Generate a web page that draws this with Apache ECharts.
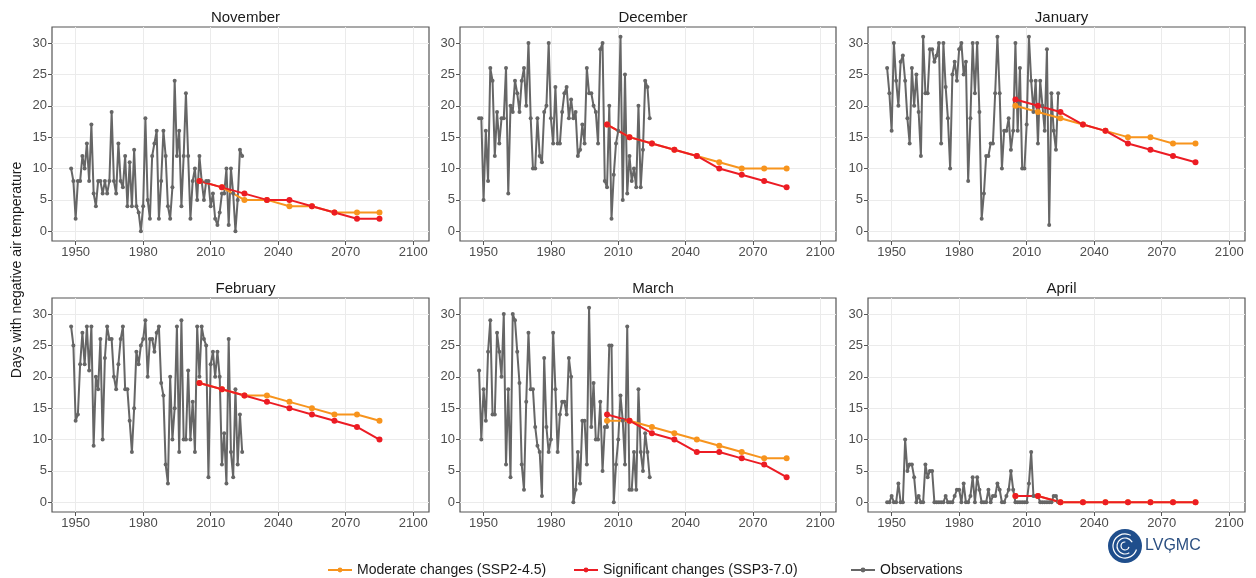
<!DOCTYPE html>
<html>
<head>
<meta charset="utf-8">
<script src="https://cdn.jsdelivr.net/npm/echarts@6/dist/echarts.min.js"></script>
<style>
  html, body { margin: 0; padding: 0; background: #fff; }
  #chart { width: 1256px; height: 578px; }
</style>
</head>
<body>
<div id="chart"></div>
<script>
// observations, one value per year starting at obsStart
var obsStart = 1948;
var projYears = [2005, 2015, 2025, 2035, 2045, 2055, 2065, 2075, 2085];
var xTicks = [1950, 1980, 2010, 2040, 2070, 2100];
var yTicks = [0, 5, 10, 15, 20, 25, 30];
var months = ['November', 'December', 'January', 'February', 'March', 'April'];
var legendNames = ['Moderate changes (SSP2-4.5)', 'Significant changes (SSP3-7.0)', 'Observations'];

var novObs = [10,8,2,8,8,12,10,14,8,17, 6,4,8,8,6,8,6,8,19,8, 6,14,8,7,12,4,11,4,13,4,
    3,0,4,18,5,2,12,14,16,2, 8,16,12,4,2,7,24,12,16,4, 12,22,12,2,8,10,5,12,8,5,
    8,8,4,6,2,1,3,6,6,10, 1,10,6,0,5,13,12];
var decObs = [18,18,5,16,8,26,24,12,19,14, 18,18,26,6,20,19,24,22,19,24, 26,20,30,18,10,10,18,12,11,19,
    20,30,18,14,23,14,14,19,22,23, 18,21,18,19,12,13,17,14,26,22, 22,20,19,14,29,30,8,7,20,2,
    9,14,16,31,5,25,6,12,8,10, 7,20,7,13,24,23,18];
var janObs = [26,22,16,30,24,20,27,28,24,18, 14,26,20,25,19,12,31,22,22,29, 29,27,28,30,14,30,23,18,10,25,
    27,24,29,30,25,27,8,18,30,22, 30,19,2,6,12,12,14,14,22,31, 22,10,16,16,18,13,16,30,16,26,
    10,10,17,31,24,19,24,14,24,20, 16,29,1,22,16,13,22];
var febObs = [28,25,13,14,22,27,22,28,21,28, 9,20,18,26,10,23,28,26,26,20, 18,22,26,28,18,18,13,8,15,24,
    22,25,26,29,20,26,26,24,27,28, 19,17,6,3,20,10,15,28,8,29, 10,10,21,10,16,8,28,20,28,26,
    25,4,22,24,20,24,20,6,11,3, 26,8,4,18,6,14,8];
var marObs = [21,10,18,13,24,29,14,14,27,24, 20,30,6,18,4,30,29,24,19,6, 2,16,27,18,18,12,9,8,1,23,
    12,8,10,27,18,8,14,16,16,14, 23,20,0,2,8,3,13,13,6,31, 12,19,10,10,16,5,12,12,25,25,
    0,6,10,17,13,6,28,2,2,8, 2,18,8,5,11,8,4];
var aprObs = [0,0,1,0,0,3,0,0,10,5, 6,6,4,0,1,0,0,6,4,5, 5,0,0,0,0,0,1,0,0,0,
    1,2,2,0,3,0,0,1,4,0, 4,2,0,0,0,2,0,1,1,3, 2,0,0,1,2,5,2,0,0,0,
    0,0,0,3,8,1,1,1,0,0, 0,0,0,0,1,1,0];

var novMod = [8,7,5,5,4,4,3,3,3];
var novSig = [8,7,6,5,5,4,3,2,2];
var decMod = [17,15,14,13,12,11,10,10,10];
var decSig = [17,15,14,13,12,10,9,8,7];
var janMod = [20,19,18,17,16,15,15,14,14];
var janSig = [21,20,19,17,16,14,13,12,11];
var febMod = [19,18,17,17,16,15,14,14,13];
var febSig = [19,18,17,16,15,14,13,12,10];
var marMod = [13,13,12,11,10,9,8,7,7];
var marSig = [14,13,11,10,8,8,7,6,4];
var aprMod = [1,1,0,0,0,0,0,0,0];
var aprSig = [1,1,0,0,0,0,0,0,0];

var obsAll = [novObs, decObs, janObs, febObs, marObs, aprObs];
var modAll = [novMod, decMod, janMod, febMod, marMod, aprMod];
var sigAll = [novSig, decSig, janSig, febSig, marSig, aprSig];

var colors = { mod: '#f7941d', sig: '#ec1c24', obs: '#666666' };
var font = 'Liberation Sans, Arial, sans-serif';

var gridLefts = [52, 460, 868];
var gridWidths = [377, 376, 377];
var gridTops = [27, 298];
var gridHeight = 214;

function pairs(xs, ys) {
    var out = [];
    for (var i = 0; i < ys.length; i++) out.push([xs[i], ys[i]]);
    return out;
}
function obsPairs(ys) {
    var out = [];
    for (var i = 0; i < ys.length; i++) out.push([obsStart + i, ys[i]]);
    return out;
}

var grids = [], xAxes = [], yAxes = [], titles = [], series = [];

for (var p = 0; p < 6; p++) {
    var col = p % 3, row = Math.floor(p / 3);
    grids.push({
        left: gridLefts[col], top: gridTops[row], width: gridWidths[col], height: gridHeight,
        show: true, borderColor: '#555555', borderWidth: 1.2, backgroundColor: '#fff'
    });
    titles.push({
        text: months[p],
        left: gridLefts[col] + gridWidths[col] / 2,
        textAlign: 'center',
        top: gridTops[row] - 22,
        textStyle: { fontFamily: font, fontSize: 15, fontWeight: 'normal', color: '#1a1a1a' }
    });
    xAxes.push({
        type: 'value', gridIndex: p, min: 1939.5, max: 2107,
        axisLine: { show: false, onZero: false },
        axisTick: { show: true, length: 4, customValues: xTicks, lineStyle: { color: '#555' } },
        axisLabel: {
            customValues: xTicks, color: '#4d4d4d', fontSize: 13, fontFamily: font, margin: 5,
            formatter: function (v) { return String(v); }
        },
        splitLine: { show: true, lineStyle: { color: '#ebebeb', width: 1 } }
    });
    yAxes.push({
        type: 'value', gridIndex: p, min: -1.55, max: 32.55,
        axisLine: { show: false, onZero: false },
        axisTick: { show: true, length: 4, customValues: yTicks, lineStyle: { color: '#555' } },
        axisLabel: { customValues: yTicks, color: '#4d4d4d', fontSize: 13, fontFamily: font, margin: 5 },
        splitLine: { show: true, lineStyle: { color: '#ebebeb', width: 1 } }
    });
    series.push({
        name: legendNames[2], type: 'line', xAxisIndex: p, yAxisIndex: p,
        data: obsPairs(obsAll[p]),
        symbol: 'circle', symbolSize: 4,
        lineStyle: { color: colors.obs, width: 2 },
        itemStyle: { color: colors.obs }
    });
    series.push({
        name: legendNames[0], type: 'line', xAxisIndex: p, yAxisIndex: p,
        data: pairs(projYears, modAll[p]),
        symbol: 'circle', symbolSize: 6,
        lineStyle: { color: colors.mod, width: 2 },
        itemStyle: { color: colors.mod }
    });
    series.push({
        name: legendNames[1], type: 'line', xAxisIndex: p, yAxisIndex: p,
        data: pairs(projYears, sigAll[p]),
        symbol: 'circle', symbolSize: 6,
        lineStyle: { color: colors.sig, width: 2 },
        itemStyle: { color: colors.sig }
    });
}

var legendLefts = [322, 568, 845];
var legends = legendNames.map(function (n, i) {
    return {
        data: [n], left: legendLefts[i], top: 558,
        itemWidth: 24, itemHeight: 6, itemGap: 10,
        textStyle: { fontFamily: font, fontSize: 14, color: '#1a1a1a' }
    };
});

var option = {
    animation: false,
    backgroundColor: '#fff',
    title: titles,
    grid: grids,
    xAxis: xAxes,
    yAxis: yAxes,
    legend: legends,
    series: series,
    graphic: [
        {
            type: 'text', x: 17, y: 270, rotation: Math.PI / 2,
            style: {
                text: 'Days with negative air temperature',
                font: '14px ' + font, fill: '#1a1a1a',
                textAlign: 'center', textVerticalAlign: 'middle',
                align: 'center', verticalAlign: 'middle'
            }
        },
        // LVGMC logo
        { type: 'circle', shape: { cx: 1125, cy: 546, r: 17 }, style: { fill: '#1f4e8c' } },
        { type: 'arc', shape: { cx: 1125, cy: 546, r: 12, startAngle: 0.3, endAngle: 5.2 },
          style: { stroke: '#ffffff', lineWidth: 1.2, fill: null } },
        { type: 'arc', shape: { cx: 1125, cy: 546, r: 8, startAngle: 1.0, endAngle: 5.8 },
          style: { stroke: '#ffffff', lineWidth: 1.2, fill: null } },
        { type: 'arc', shape: { cx: 1125, cy: 546, r: 4, startAngle: 0.2, endAngle: 4.8 },
          style: { stroke: '#ffffff', lineWidth: 1.2, fill: null } },
        {
            type: 'text', x: 1145, y: 546,
            style: {
                text: 'LVĢMC', font: '16px "Liberation Sans Narrow", ' + font, fill: '#2b4f81',
                textVerticalAlign: 'middle', verticalAlign: 'middle'
            }
        }
    ]
};

var chart = echarts.init(document.getElementById('chart'));
chart.setOption(option);
</script>
</body>
</html>
